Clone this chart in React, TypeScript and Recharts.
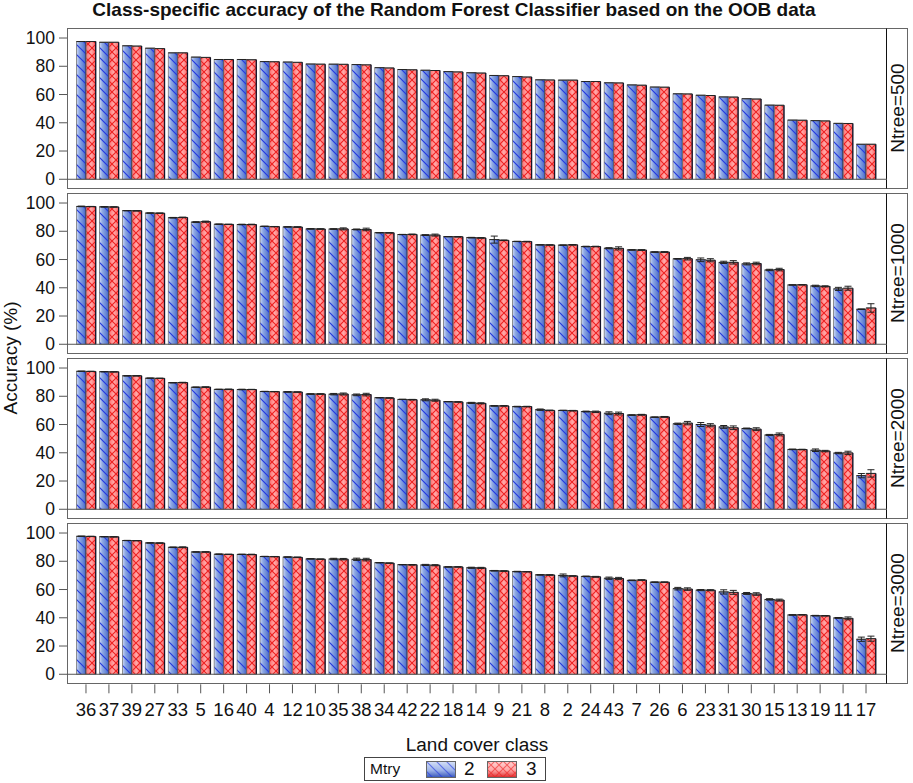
import React from "react";
import { BarChart, Bar, XAxis, YAxis, ErrorBar, ReferenceLine } from "recharts";

const classes = ["36","37","39","27","33","5","16","40","4","12","10","35","38","34","42","22","18","14","9","21","8","2","24","43","7","26","6","23","31","30","15","13","19","11","17"];
const yTicks = [0, 20, 40, 60, 80, 100];
const ntreeLabels = ["Ntree=500", "Ntree=1000", "Ntree=2000", "Ntree=3000"];

const n500m2 = [97.5,97,94.5,92.8,89.5,86.5,84.8,84.8,83.3,83,81.6,81.5,81.2,79,77.7,77.2,76.2,75.4,73.5,72.7,70.4,70.2,69.2,68.3,66.8,65.3,60.5,59.5,58.3,57,52.5,41.9,41.5,39.6,24.8];
const n500m3 = [97.5,97,94.3,92.5,89.5,86.3,84.8,84.6,83.2,82.8,81.5,81.4,81,78.8,77.5,77,76,75.2,73.3,72.4,70.3,70.2,69.2,68.2,66.6,65.2,60.4,59.3,58.2,56.8,52.4,41.8,41.3,39.5,24.8];
const n1000m2 = [97.6,97.3,94.6,92.9,89.6,86.5,85,84.8,83.5,83.1,81.7,81.6,81.3,79,77.7,77.3,76.2,75.5,74.1,72.8,70.4,70.2,69.2,68,66.8,65.3,60.5,59.8,58,56.9,52.6,42,41.3,39.2,24.8];
const n1000m3 = [97.5,97.2,94.5,92.8,89.8,86.8,84.9,84.8,83.3,83,81.6,81.7,81.3,78.9,77.8,77.3,76.1,75.3,73.6,72.7,70.3,70.4,69.2,67.9,66.7,65.3,60.6,59.5,58,57.2,52.9,42.1,41,39.7,25.7];
const n2000m2 = [97.7,97.4,94.5,92.8,89.6,86.4,84.9,84.8,83.4,83.1,81.6,81.5,81,79,77.8,77.5,76.2,75.3,73.2,72.7,70.5,70,69.2,68,66.7,65.2,60.5,60,58.3,57.2,52.6,42.4,41.8,39.8,23.8];
const n2000m3 = [97.6,97.3,94.5,92.7,89.7,86.5,84.9,84.8,83.3,83,81.6,81.6,81.2,78.8,77.6,77.2,76,75,73.2,72.7,70,69.8,69,67.8,66.9,65.4,61,59.5,57.7,56.7,53,42.3,41.2,39.9,25.4];
const n3000m2 = [97.7,97.4,94.7,93,89.9,86.6,85,84.9,83.4,83,81.7,81.6,81.4,79,77.6,77.4,76,75.4,73.3,72.7,70.4,70,69.3,68,66.5,65.2,60.6,59.6,58.3,57.2,53,42,41.5,39.9,24.8];
const n3000m3 = [97.6,97.3,94.6,92.9,89.9,86.6,84.9,84.8,83.3,82.8,81.5,81.5,81.2,78.7,77.5,77.2,76,75.3,73.1,72.6,70.3,69.6,69,67.8,66.7,65.2,60.3,59.5,58,56.8,52.5,42.1,41.4,39.6,25.2];

const n500e = classes.map(() => 0);
const n1000e2 = [.2,.2,.1,.1,.2,.3,.1,.2,.1,.1,.2,.2,.3,.1,.1,.3,.1,.2,2.5,.1,.1,.1,.2,.4,.2,.2,.2,1.3,.8,.7,.5,.1,.5,1.1,.2];
const n1000e3 = [.1,.1,.1,.1,.2,.4,.1,.2,.1,.2,.2,.7,.9,.1,.2,.7,.1,.2,.2,.2,.1,.2,.2,1.1,.3,.3,.9,1.1,1.2,.9,.9,.1,.4,1.4,3];
const n2000e2 = [.1,.1,.1,.1,.1,.2,.1,.2,.1,.2,.2,.5,.6,.1,.1,.7,.1,.4,.2,.2,.5,.1,.3,1,.2,.2,.5,1.4,1,.3,.4,.2,.9,.5,1.5];
const n2000e3 = [.1,.1,.1,.1,.2,.2,.2,.1,.1,.1,.2,.7,.9,.1,.2,.7,.2,.4,.2,.2,.2,.2,.5,1,.3,.3,1.2,1.1,1.3,1,1,.2,.5,1.2,2.6];
const n3000e2 = [.1,.1,.1,.1,.2,.1,.2,.1,.1,.1,.1,.5,.8,.1,.1,.4,.1,.4,.2,.2,.2,1,.2,.8,.2,.2,.9,.4,1.5,.7,.5,.2,.2,.3,1.5];
const n3000e3 = [.1,.1,.1,.1,.3,.1,.1,.2,.1,.2,.1,.5,.9,.1,.2,.4,.1,.4,.2,.1,.2,.1,.3,.8,.2,.2,.9,.4,1.4,.9,.7,.1,.1,1,1.8];

const panels = [
  { m2: n500m2, m3: n500m3, e2: n500e, e3: n500e },
  { m2: n1000m2, m3: n1000m3, e2: n1000e2, e3: n1000e3 },
  { m2: n2000m2, m3: n2000m3, e2: n2000e2, e3: n2000e3 },
  { m2: n3000m2, m3: n3000m3, e2: n3000e2, e3: n3000e3 },
];

const FONT = "'Liberation Sans', Arial, sans-serif";
const PANEL_H = 161.3;
const PANEL_TOPS = [27.7, 192.7, 357.7, 522.7];
const LEFT = 67;
const RIGHT = 887;
const STRIP_R = 908;

function HatchBar(props: any) {
  const { x, y, width, height, kind } = props;
  if (!height || height <= 0) return null;
  return (
    <g>
      <rect x={x} y={y} width={width} height={height} fill={`url(#grad${kind})`} />
      <rect x={x} y={y} width={width} height={height} fill={`url(#hatch${kind})`} />
      <rect x={x} y={y} width={width} height={height} fill="none" stroke="#777" strokeWidth={0.8} />
      <line x1={x + width} y1={y} x2={x + width} y2={y + height} stroke="#14142a" strokeWidth={1.3} />
      <line x1={x} y1={y} x2={x + width} y2={y} stroke="#222" strokeWidth={1} />
    </g>
  );
}

function Defs() {
  return (
    <svg width={0} height={0} style={{ position: "absolute" }}>
      <defs>
        <linearGradient id="grad2" x1="0" y1="0" x2="1" y2="0">
          <stop offset="0" stopColor="#cfdaf5" />
          <stop offset="0.3" stopColor="#8fa9e4" />
          <stop offset="0.7" stopColor="#6484d6" />
          <stop offset="1" stopColor="#3c5cc0" />
        </linearGradient>
        <linearGradient id="grad3" x1="0" y1="0" x2="1" y2="0">
          <stop offset="0" stopColor="#ff7070" />
          <stop offset="0.5" stopColor="#ffaaaa" />
          <stop offset="1" stopColor="#ff6464" />
        </linearGradient>
        <linearGradient id="legend2" x1="0" y1="0" x2="0" y2="1">
          <stop offset="0" stopColor="#d9e3f8" />
          <stop offset="0.55" stopColor="#9db3e8" />
          <stop offset="1" stopColor="#2f50b8" />
        </linearGradient>
        <linearGradient id="legend3" x1="0" y1="0" x2="0" y2="1">
          <stop offset="0" stopColor="#ffd6d6" />
          <stop offset="0.55" stopColor="#ffa4a4" />
          <stop offset="1" stopColor="#d81e1e" />
        </linearGradient>
        <pattern id="hatch2" width="10" height="10" patternUnits="userSpaceOnUse">
          <path d="M-1,-1 L11,11 M-6,4 L6,16 M4,-6 L16,6" stroke="#2438e0" strokeWidth="1.2" fill="none" />
        </pattern>
        <pattern id="hatch3" width="8" height="8" patternUnits="userSpaceOnUse">
          <path d="M-1,-1 L9,9 M-1,9 L9,-1" stroke="#ee2020" strokeWidth="1.1" fill="none" />
        </pattern>
      </defs>
    </svg>
  );
}

function Panel({ index }: { index: number }) {
  const p = panels[index];
  const last = index === panels.length - 1;
  const rows = classes.map((c, i) => ({ name: c, a: p.m2[i], b: p.m3[i], ea: p.e2[i], eb: p.e3[i] }));
  const axisBelow = 72;
  return (
    <div style={{ position: "absolute", left: 0, top: PANEL_TOPS[index] }}>
      <BarChart
        width={913}
        height={PANEL_H + (last ? axisBelow : 0)}
        data={rows}
        margin={{ top: 0, right: 913 - RIGHT, bottom: 0, left: 0 }}
        barSize={9.6}
        barGap={0}
      >
        <XAxis
          dataKey="name"
          hide={!last}
          height={axisBelow}
          interval={0}
          padding={{ left: 7.5, right: 9.5 }}
          axisLine={false}
          tickLine={{ stroke: "#555", strokeWidth: 1 }}
          tickSize={9}
          tickMargin={10}
          tick={{ fill: "#111", fontSize: 18.5, fontFamily: FONT }}
          label={{ value: "Land cover class", position: "insideBottom", offset: 5, fill: "#111", fontSize: 19, fontFamily: FONT }}
        />
        <YAxis
          width={LEFT}
          domain={[-7.1, 107.1]}
          ticks={yTicks}
          interval={0}
          allowDataOverflow
          axisLine={false}
          tickLine={{ stroke: "#555", strokeWidth: 1 }}
          tickSize={8}
          tickMargin={4}
          tick={{ fill: "#111", fontSize: 17.5, fontFamily: FONT }}
        />
        <ReferenceLine y={0} stroke="#555" strokeWidth={1} />
        <Bar dataKey="a" isAnimationActive={false} shape={(s: any) => <HatchBar {...s} kind="2" />}>
          {index > 0 && <ErrorBar dataKey="ea" width={3.5} stroke="#222" strokeWidth={1} isAnimationActive={false} />}
        </Bar>
        <Bar dataKey="b" isAnimationActive={false} shape={(s: any) => <HatchBar {...s} kind="3" />}>
          {index > 0 && <ErrorBar dataKey="eb" width={3.5} stroke="#222" strokeWidth={1} isAnimationActive={false} />}
        </Bar>
      </BarChart>
    </div>
  );
}

function Frame({ top, label }: { top: number; label: string }) {
  return (
    <>
      <div style={{ position: "absolute", left: LEFT, top, width: RIGHT - LEFT, height: PANEL_H, border: "1.5px solid #666", boxSizing: "border-box" }} />
      <div style={{ position: "absolute", left: RIGHT - 1, top, width: STRIP_R - RIGHT + 1, height: PANEL_H, border: "1.5px solid #666", borderLeft: "1.5px solid #111", boxSizing: "border-box" }} />
      <div
        style={{
          position: "absolute",
          left: RIGHT + 11,
          top: top + PANEL_H / 2,
          transform: "translate(-50%,-50%) rotate(-90deg)",
          whiteSpace: "nowrap",
          fontFamily: FONT,
          fontSize: 19,
          color: "#111",
        }}
      >
        {label}
      </div>
    </>
  );
}

function Swatch({ x, kind }: { x: number; kind: string }) {
  return (
    <svg width={30} height={17} style={{ position: "absolute", left: x, top: 761 }}>
      <rect x={0} y={0} width={30} height={17} fill={`url(#legend${kind})`} />
      <rect x={0} y={0} width={30} height={17} fill={`url(#hatch${kind})`} opacity={0.6} />
      <rect x={0.5} y={0.5} width={29} height={16} fill="none" stroke="#666" />
    </svg>
  );
}

export default function App() {
  const text: React.CSSProperties = { position: "absolute", fontFamily: FONT, color: "#111", whiteSpace: "nowrap" };
  return (
    <div style={{ position: "absolute", left: 0, top: 0, width: 913, height: 783, background: "#fff", overflow: "hidden" }}>
      <Defs />
      <div style={{ ...text, left: 454, top: 0, transform: "translateX(-50%)", fontSize: 19, lineHeight: "20px", fontWeight: 700 }}>
        Class-specific accuracy of the Random Forest Classifier based on the OOB data
      </div>
      {PANEL_TOPS.map((t, i) => (
        <Frame key={i} top={t} label={ntreeLabels[i]} />
      ))}
      {panels.map((_, i) => (
        <Panel key={i} index={i} />
      ))}
      <div style={{ ...text, left: 11, top: 358, transform: "translate(-50%,-50%) rotate(-90deg)", fontSize: 19 }}>Accuracy (%)</div>
      <div style={{ position: "absolute", left: 364, top: 757, width: 182, height: 24, border: "1.5px solid #444", boxSizing: "border-box" }} />
      <div style={{ ...text, left: 370, top: 769, transform: "translateY(-50%)", fontSize: 15.5 }}>Mtry</div>
      <Swatch x={426} kind="2" />
      <div style={{ ...text, left: 464, top: 769, transform: "translateY(-50%)", fontSize: 19 }}>2</div>
      <Swatch x={487} kind="3" />
      <div style={{ ...text, left: 526, top: 769, transform: "translateY(-50%)", fontSize: 19 }}>3</div>
    </div>
  );
}
